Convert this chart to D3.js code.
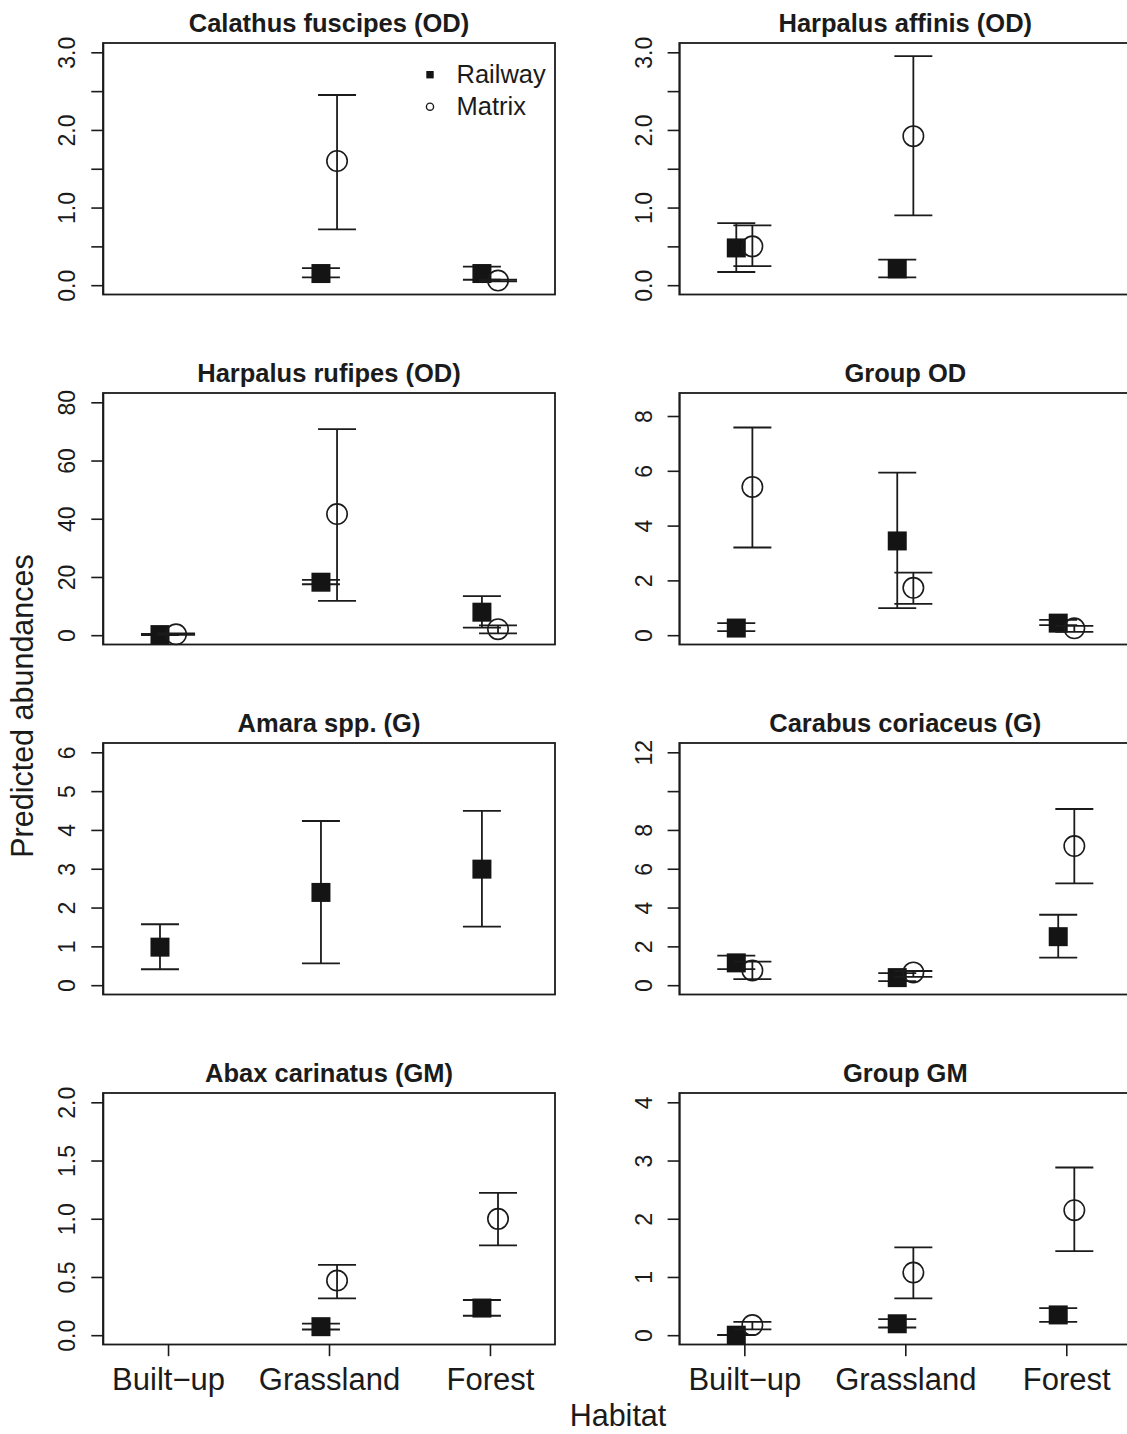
<!DOCTYPE html>
<html>
<head>
<meta charset="utf-8">
<script src="https://cdn.jsdelivr.net/npm/d3@7"></script>
<style>
  html, body { margin: 0; padding: 0; background: #fff; overflow: hidden; }
  svg { display: block; font-family: "Liberation Sans", Arial, Helvetica, sans-serif; }
</style>
</head>
<body>
<svg id="chart" width="1127" height="1434"></svg>
<script>
// ---------------- DATA ----------------
const habitats = ["Built\u2212up", "Grassland", "Forest"];
const seriesNames = ["Railway", "Matrix"];
const titles = [
  "Calathus fuscipes (OD)", "Harpalus affinis (OD)",
  "Harpalus rufipes (OD)", "Group OD",
  "Amara spp. (G)", "Carabus coriaceus (G)",
  "Abax carinatus (GM)", "Group GM"
];
const yMax = [3, 3, 80, 8.5, 6, 12, 2, 4];
const yTickValues = [
  [0, 0.5, 1, 1.5, 2, 2.5, 3],
  [0, 0.5, 1, 1.5, 2, 2.5, 3],
  [0, 20, 40, 60, 80],
  [0, 2, 4, 6, 8],
  [0, 1, 2, 3, 4, 5, 6],
  [0, 2, 4, 6, 8, 10, 12],
  [0, 0.5, 1, 1.5, 2],
  [0, 1, 2, 3, 4]
];
const yTickLabels = [
  ["0.0", "", "1.0", "", "2.0", "", "3.0"],
  ["0.0", "", "1.0", "", "2.0", "", "3.0"],
  ["0", "20", "40", "60", "80"],
  ["0", "2", "4", "6", "8"],
  ["0", "1", "2", "3", "4", "5", "6"],
  ["0", "2", "4", "6", "8", "", "12"],
  ["0.0", "0.5", "1.0", "1.5", "2.0"],
  ["0", "1", "2", "3", "4"]
];
// Railway (filled squares): estimate, lower, upper per habitat
const railwayMean = [
  [null, 0.15, 0.15], [0.48, 0.21, null], [0.2, 18.2, 7.9], [0.26, 3.44, 0.44],
  [0.98, 2.39, 2.99], [1.15, 0.39, 2.50], [null, 0.073, 0.233], [0.0, 0.196, 0.348]
];
const railwayLo = [
  [null, 0.10, 0.07], [0.17, 0.10, null], [0.05, 17.5, 2.6], [0.15, 0.99, 0.37],
  [0.41, 0.56, 1.51], [0.83, 0.21, 1.42], [null, 0.049, 0.167], [0.0, 0.132, 0.23]
];
const railwayHi = [
  [null, 0.22, 0.24], [0.80, 0.33, null], [0.4, 19.0, 13.4], [0.44, 5.93, 0.56],
  [1.57, 4.23, 4.49], [1.52, 0.62, 3.63], [null, 0.10, 0.302], [0.005, 0.276, 0.466]
];
// Matrix (open circles)
const matrixMean = [
  [null, 1.60, 0.06], [0.50, 1.92, null], [0.3, 41.6, 2.06], [5.41, 1.73, 0.25],
  [null, null, null], [0.76, 0.66, 7.17], [null, 0.469, 0.999], [0.173, 1.076, 2.147]
];
const matrixLo = [
  [null, 0.72, 0.05], [0.245, 0.90, null], [0.1, 11.8, 0.6], [3.20, 1.14, 0.12],
  [null, null, null], [0.31, 0.43, 5.25], [null, 0.317, 0.771], [0.10, 0.633, 1.445]
];
const matrixHi = [
  [null, 2.45, 0.07], [0.77, 2.95, null], [0.6, 70.8, 3.4], [7.58, 2.28, 0.34],
  [null, null, null], [1.21, 0.73, 9.08], [null, 0.604, 1.223], [0.23, 1.51, 2.88]
];
const xLabel = "Habitat";
const yLabel = "Predicted abundances";

// ---------------- LAYOUT ----------------
const ink = "#1b1b1b";
const colLeft = [103, 679.3];
const boxW = 452;
const rowTop = [43, 393, 743, 1093];
const boxH = 251.5;
const tickLen = 11.7;
const capHalf = 19;
const sq = 19;
const circR = 10.2;
const offset = 0.05;

const svg = d3.select("#chart");

titles.forEach((title, i) => {
  const col = i % 2, row = Math.floor(i / 2);
  const x0 = colLeft[col], y0 = rowTop[row];
  const g = svg.append("g").attr("transform", `translate(${x0},${y0})`);

  const x = d3.scaleLinear().domain([0.596, 3.404]).range([0, boxW]);
  const m = yMax[i];
  const y = d3.scaleLinear().domain([-0.04 * m, 1.04 * m]).range([boxH, 0]);

  // y axis
  const yAxis = d3.axisLeft(y)
    .tickValues(yTickValues[i])
    .tickFormat((d, k) => yTickLabels[i][k])
    .tickSize(tickLen)
    .tickSizeOuter(0);
  const ya = g.append("g").call(yAxis);
  ya.select(".domain").attr("stroke", ink).attr("stroke-width", 1.6);
  ya.selectAll(".tick line").attr("stroke", ink).attr("stroke-width", 1.6);
  ya.selectAll(".tick text")
    .attr("transform", "rotate(-90)")
    .attr("x", 0).attr("y", -27.6).attr("dy", 0)
    .attr("text-anchor", "middle")
    .attr("fill", ink)
    .style("font-size", "23px");

  // x axis (bottom row only)
  if (row === 3) {
    const xAxis = d3.axisBottom(x)
      .tickValues([1, 2, 3])
      .tickFormat((d) => habitats[d - 1])
      .tickSize(tickLen)
      .tickSizeOuter(0);
    const xa = g.append("g").attr("transform", `translate(0,${boxH})`).call(xAxis);
    xa.select(".domain").remove();
    xa.selectAll(".tick line").attr("stroke", ink).attr("stroke-width", 1.6);
    xa.selectAll(".tick text")
      .attr("y", 45).attr("dy", 0)
      .attr("fill", ink)
      .style("font-size", "31px");
  }

  // box
  g.append("rect")
    .attr("x", 0).attr("y", 0).attr("width", boxW).attr("height", boxH)
    .attr("fill", "none").attr("stroke", ink).attr("stroke-width", 1.8);

  // title
  g.append("text")
    .attr("x", boxW / 2).attr("y", -11)
    .attr("text-anchor", "middle")
    .attr("fill", ink)
    .style("font-size", "25.5px").style("font-weight", "bold")
    .text(title);

  // series
  const series = [
    { name: "Railway", mean: railwayMean[i], lo: railwayLo[i], hi: railwayHi[i], dx: -offset },
    { name: "Matrix", mean: matrixMean[i], lo: matrixLo[i], hi: matrixHi[i], dx: offset }
  ];
  series.forEach((s) => {
    const pts = habitats.map((h, k) => ({ k: k + 1, mean: s.mean[k], lo: s.lo[k], hi: s.hi[k] }))
      .filter((d) => d.mean !== null);
    const eg = g.append("g").attr("stroke", ink).attr("stroke-width", 1.8).attr("fill", "none");
    pts.forEach((d) => {
      const cx = x(d.k + s.dx);
      eg.append("line").attr("x1", cx).attr("x2", cx).attr("y1", y(d.lo)).attr("y2", y(d.hi));
      eg.append("line").attr("x1", cx - capHalf).attr("x2", cx + capHalf).attr("y1", y(d.lo)).attr("y2", y(d.lo));
      eg.append("line").attr("x1", cx - capHalf).attr("x2", cx + capHalf).attr("y1", y(d.hi)).attr("y2", y(d.hi));
    });
    if (s.name === "Railway") {
      g.selectAll(null).data(pts).enter().append("rect")
        .attr("x", (d) => x(d.k + s.dx) - sq / 2)
        .attr("y", (d) => y(d.mean) - sq / 2)
        .attr("width", sq).attr("height", sq)
        .attr("fill", "#141414");
    } else {
      g.selectAll(null).data(pts).enter().append("circle")
        .attr("cx", (d) => x(d.k + s.dx))
        .attr("cy", (d) => y(d.mean))
        .attr("r", circR)
        .attr("fill", "none").attr("stroke", ink).attr("stroke-width", 1.6);
    }
  });

  // legend (first panel only)
  if (i === 0) {
    const lg = svg.append("g");
    lg.append("rect").attr("x", 430 - 3.7).attr("y", 74.7 - 3.7).attr("width", 7.4).attr("height", 7.4).attr("fill", "#141414");
    lg.append("circle").attr("cx", 430).attr("cy", 106.7).attr("r", 3.6).attr("fill", "none").attr("stroke", ink).attr("stroke-width", 1.4);
    lg.append("text").attr("x", 456.5).attr("y", 83.3).attr("fill", ink).style("font-size", "25.5px").text(seriesNames[0]);
    lg.append("text").attr("x", 456.5).attr("y", 115.3).attr("fill", ink).style("font-size", "25.5px").text(seriesNames[1]);
  }
});

// axis titles
svg.append("text")
  .attr("transform", "translate(33,706) rotate(-90)")
  .attr("text-anchor", "middle")
  .attr("fill", ink)
  .style("font-size", "30.5px")
  .text(yLabel);

svg.append("text")
  .attr("x", 618).attr("y", 1426)
  .attr("text-anchor", "middle")
  .attr("fill", ink)
  .style("font-size", "30.5px")
  .text(xLabel);
</script>
</body>
</html>
